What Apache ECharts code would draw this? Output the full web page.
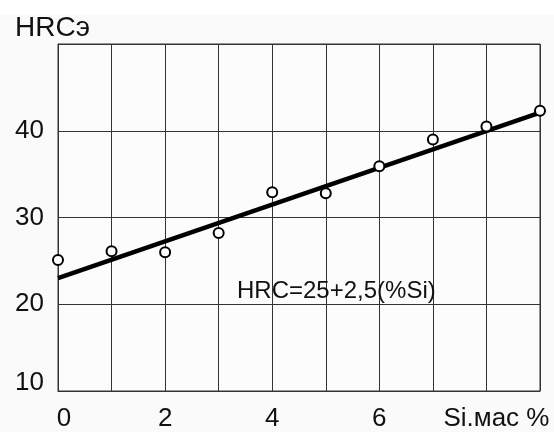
<!DOCTYPE html>
<html>
<head>
<meta charset="utf-8">
<script src="https://cdn.jsdelivr.net/npm/echarts@6/dist/echarts.min.js"></script>
<style>
  html, body { margin: 0; padding: 0; background: #ffffff; }
  #hrcChart { width: 554px; height: 432px; }
</style>
</head>
<body>
<div id="hrcChart"></div>
<script>
// Si content, mass %
const siContent = [0, 1, 2, 3, 4, 5, 6, 7, 8, 9]
// measured hardness HRCэ
const hardness = [25.1, 26.1, 26.0, 28.2, 32.9, 32.8, 35.9, 39.0, 40.5, 42.3]
// fitted straight line, two ends
const fitX = [0, 9]
const fitY = [23.0, 42.1]
const yTicks = [10, 20, 30, 40, 50]
const xTickLabels = { 0: '0', 2: '2', 4: '4', 6: '6', 8: 'Si.мас %' }
const equation = 'HRC=25+2,5(%Si)'

let myChart = echarts.init(document.getElementById('hrcChart'))
let font = 'Liberation Sans, Arial, sans-serif'

let options = {
  animation: false,
  backgroundColor: '#ffffff',
  textStyle: { fontFamily: font },
  title: {
    text: 'HRCэ',
    left: 10,
    top: 9,
    textStyle: { fontSize: 28, fontWeight: 'normal', color: '#111', fontFamily: font }
  },
  graphic: [
    {
      type: 'rect',
      z: -10,
      shape: { x: 0, y: 15, width: 554, height: 417 },
      style: { fill: '#fafafa' }
    },
    {
      type: 'text',
      left: 237,
      top: 279,
      z: 10,
      style: { text: equation, fontSize: 24, fill: '#111', fontFamily: font }
    }
  ],
  grid: {
    left: 58,
    right: 14,
    top: 44,
    bottom: 36,
    show: true,
    borderColor: '#333',
    borderWidth: 1,
    backgroundColor: '#fcfcfc'
  },
  xAxis: {
    type: 'value',
    min: 0,
    max: 9,
    interval: 1,
    axisLine: { lineStyle: { color: '#333', width: 1 } },
    axisTick: { show: false },
    splitLine: { show: true, lineStyle: { color: '#333', width: 1 } },
    axisLabel: {
      margin: 15,
      color: '#111',
      fontSize: 26,
      formatter: function (v) {
        if (v === 0) return '{z|0}'
        if (v === 8) return '{n|' + xTickLabels[8] + '}'
        return xTickLabels[v] || ''
      },
      rich: {
        z: { fontSize: 26, color: '#111', padding: [0, 0, 0, 12] },
        n: { fontSize: 26, color: '#111', padding: [0, 0, 0, 20] }
      }
    }
  },
  yAxis: {
    type: 'value',
    min: yTicks[0],
    max: yTicks[yTicks.length - 1],
    interval: 10,
    axisLine: { lineStyle: { color: '#333', width: 1 } },
    axisTick: { show: false },
    splitLine: { show: true, lineStyle: { color: '#333', width: 1 } },
    axisLabel: {
      margin: 14,
      color: '#111',
      fontSize: 26,
      formatter: function (v) {
        if (v === yTicks[yTicks.length - 1]) return ''
        if (v === yTicks[0]) return '{b|' + v + '}'
        return String(v)
      },
      rich: {
        b: { fontSize: 26, color: '#111', padding: [0, 0, 16, 0] }
      }
    }
  },
  series: [
    {
      name: 'fit',
      type: 'line',
      data: fitX.map((x, i) => [x, fitY[i]]),
      showSymbol: false,
      symbol: 'none',
      lineStyle: { color: '#000', width: 4.5 },
      z: 2
    },
    {
      name: 'HRC',
      type: 'scatter',
      data: siContent.map((x, i) => [x, hardness[i]]),
      symbol: 'circle',
      symbolSize: 10,
      itemStyle: { color: '#fff', borderColor: '#000', borderWidth: 2, opacity: 1 },
      z: 3
    }
  ]
}
myChart.setOption(options)
</script>
</body>
</html>
